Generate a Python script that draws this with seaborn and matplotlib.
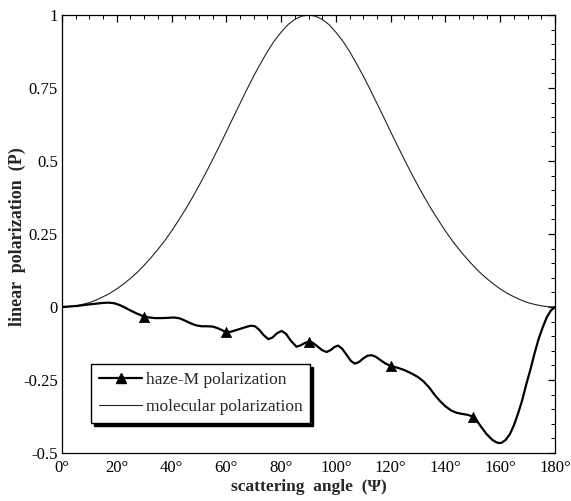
import numpy as np
import pandas as pd
import matplotlib
matplotlib.use("Agg")
import matplotlib.pyplot as plt
from matplotlib.lines import Line2D
from matplotlib.ticker import MultipleLocator, FixedLocator
import seaborn as sns

# ---- data ----
mol_angle = [0, 2.5, 5, 7.5, 10, 12.5, 15, 17.5, 20, 22.5, 25, 27.5, 30, 32.5, 35, 37.5, 40, 42.5,
             45, 47.5, 50, 52.5, 55, 57.5, 60, 62.5, 65, 67.5, 70, 72.5, 75, 77.5, 80, 82.5, 85,
             87.5, 90, 92.5, 95, 97.5, 100, 102.5, 105, 107.5, 110, 112.5, 115, 117.5, 120, 122.5,
             125, 127.5, 130, 132.5, 135, 137.5, 140, 142.5, 145, 147.5, 150, 152.5, 155, 157.5,
             160, 162.5, 165, 167.5, 170, 172.5, 175, 177.5, 180]
mol_pol = [0, 0.001, 0.004, 0.009, 0.015, 0.024, 0.035, 0.047, 0.062, 0.079, 0.098, 0.119, 0.143,
           0.169, 0.197, 0.227, 0.260, 0.296, 0.333, 0.373, 0.415, 0.459, 0.505, 0.552, 0.600,
           0.649, 0.697, 0.745, 0.791, 0.834, 0.875, 0.911, 0.941, 0.967, 0.985, 0.996, 1.0,
           0.996, 0.985, 0.967, 0.941, 0.911, 0.875, 0.834, 0.791, 0.745, 0.697, 0.649, 0.600,
           0.552, 0.505, 0.459, 0.415, 0.373, 0.333, 0.296, 0.260, 0.227, 0.197, 0.169, 0.143,
           0.119, 0.098, 0.079, 0.062, 0.047, 0.035, 0.024, 0.015, 0.009, 0.004, 0.001, 0]

haze_angle = [0, 3, 6, 9, 12, 15, 17, 19, 21, 23, 25, 27, 29, 30, 32, 34, 36.5, 39, 41, 43, 45,
              47, 49, 51, 53, 55, 57, 59, 60, 61.5, 63, 65, 67, 69, 70.5, 72, 73.5, 75.3, 76.8,
              78.5, 80.2, 81.8, 83.5, 85.6, 87, 88.5, 90, 91.5, 93, 95, 96.6, 98, 99.5, 100.8,
              102.3, 104, 105.5, 107, 108.5, 110, 111.5, 113, 114.5, 116, 118, 120, 122.5, 125,
              127.5, 130, 132, 134, 136, 138, 140, 142, 144, 146, 148, 150, 151.5, 153, 155, 157,
              158.5, 159.5, 160.5, 162, 163.5, 165, 166.5, 168, 169.5, 171, 172.5, 174, 175.5,
              177, 178.5, 180]
haze_pol = [0, 0.002, 0.004, 0.008, 0.011, 0.014, 0.015, 0.013, 0.007, -0.002, -0.012, -0.021,
            -0.029, -0.033, -0.036, -0.038, -0.038, -0.037, -0.036, -0.039, -0.047, -0.056,
            -0.063, -0.066, -0.066, -0.067, -0.073, -0.082, -0.086, -0.085, -0.081, -0.075,
            -0.069, -0.064, -0.066, -0.078, -0.095, -0.110, -0.105, -0.090, -0.082, -0.092,
            -0.115, -0.136, -0.132, -0.124, -0.119, -0.122, -0.133, -0.148, -0.154, -0.148,
            -0.137, -0.132, -0.143, -0.165, -0.185, -0.194, -0.188, -0.176, -0.167, -0.165,
            -0.170, -0.180, -0.193, -0.202, -0.208, -0.216, -0.227, -0.240, -0.255, -0.275,
            -0.300, -0.322, -0.340, -0.354, -0.362, -0.366, -0.369, -0.375, -0.390, -0.410,
            -0.435, -0.454, -0.463, -0.466, -0.465, -0.455, -0.436, -0.405, -0.365, -0.320,
            -0.265, -0.215, -0.160, -0.110, -0.070, -0.035, -0.012, 0]

marker_angle = [30, 60, 90, 120, 150]
marker_pol = [-0.033, -0.086, -0.119, -0.202, -0.375]

x_ticks = [0, 20, 40, 60, 80, 100, 120, 140, 160, 180]
x_tick_labels = ["0°", "20°", "40°", "60°", "80°", "100°", "120°", "140°", "160°", "180°"]
y_ticks = [-0.5, -0.25, 0, 0.25, 0.5, 0.75, 1]
y_tick_labels = ["-0.5", "-0.25", "0", "0.25", "0.5", "0.75", "1"]

labels = ["haze-M polarization", "molecular polarization"]

# ---- plotting ----
sns.set_theme(style="white")
plt.rcParams["font.family"] = ["Liberation Serif", "DejaVu Serif"]
plt.rcParams["axes.unicode_minus"] = False

fig = plt.figure(figsize=(5.71, 5.01), dpi=100)
ax = fig.add_axes([62 / 571, 1 - 453 / 501, (555 - 62) / 571, (453 - 15) / 501])

df_mol = pd.DataFrame({"angle": mol_angle, "P": mol_pol})
df_haze = pd.DataFrame({"angle": haze_angle, "P": haze_pol})
df_mark = pd.DataFrame({"angle": marker_angle, "P": marker_pol})

sns.lineplot(data=df_mol, x="angle", y="P", ax=ax, color="#222222", linewidth=0.8, sort=False)
sns.lineplot(data=df_haze, x="angle", y="P", ax=ax, color="black", linewidth=1.6, sort=False)
for ln in ax.lines:
    ln.set_solid_joinstyle("round")
sns.scatterplot(data=df_mark, x="angle", y="P", ax=ax, color="black", marker="^", s=55,
                edgecolor="black", linewidth=0.5, zorder=5)

ax.set_xlim(0, 180)
ax.set_ylim(-0.5, 1)
ax.xaxis.set_major_locator(FixedLocator(x_ticks))
ax.set_xticklabels(x_tick_labels)
ax.xaxis.set_minor_locator(MultipleLocator(5))
ax.yaxis.set_major_locator(FixedLocator(y_ticks))
ax.set_yticklabels(y_tick_labels)
ax.yaxis.set_minor_locator(MultipleLocator(0.05))

ax.tick_params(which="both", direction="in", top=True, right=True, colors="black",
               labelsize=12, labelcolor="black")
ax.tick_params(which="major", length=5, width=0.9)
ax.tick_params(which="minor", length=3, width=0.7)
ax.tick_params(axis="x", pad=5)
ax.tick_params(axis="y", pad=3)
for s in ax.spines.values():
    s.set_color("black")
    s.set_linewidth(0.9)

ax.set_xlabel("scattering  angle  (Ψ)", fontsize=12.5, fontweight="bold", labelpad=2)
ax.set_ylabel("linear  polarization  (P)", fontsize=13, fontweight="bold")
ax.yaxis.set_label_coords(-0.074, 0.495)

handles = [
    Line2D([0, 1], [0, 0], color="black", linewidth=1.6, marker="^", markersize=7),
    Line2D([0, 1], [0, 0], color="#222222", linewidth=0.8),
]
leg = ax.legend(handles, labels, loc="lower left", bbox_to_anchor=(0.059, 0.069),
                fontsize=12.5, frameon=True, fancybox=False, edgecolor="black",
                framealpha=1, shadow={"color": "black", "alpha": 1}, handlelength=2.5,
                borderpad=0.45, labelspacing=0.6, handletextpad=0.2, borderaxespad=0,
                numpoints=1)
leg.get_frame().set_linewidth(1.0)

fig.savefig("out.png", dpi=100)
